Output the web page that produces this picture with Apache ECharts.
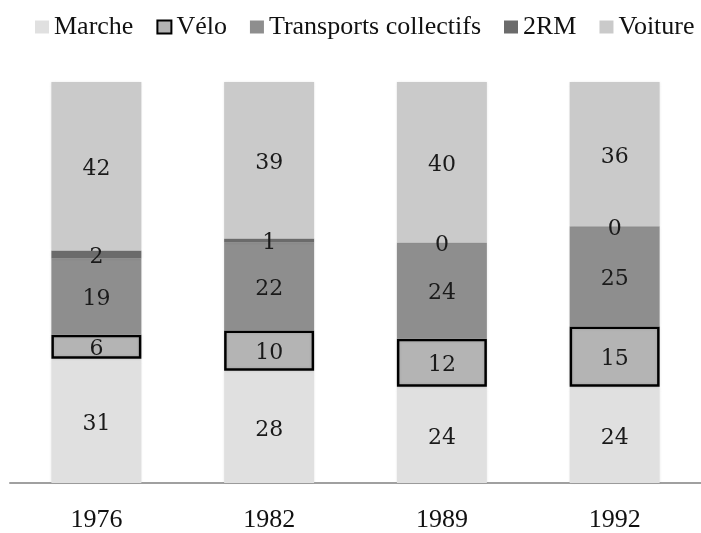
<!DOCTYPE html>
<html>
<head>
<meta charset="utf-8">
<script src="https://cdn.jsdelivr.net/npm/echarts@6/dist/echarts.min.js"></script>
<style>
  html, body { margin: 0; padding: 0; background: #fff; }
  #chart { width: 701px; height: 533px; }
</style>
</head>
<body>
<div id="chart"></div>
<script>
// données (%)
var annees = ["1976", "1982", "1989", "1992"];
var marche = [31, 28, 24, 24];
var velo = [6, 10, 12, 15];
var transports = [19, 22, 24, 25];
var deuxRM = [2, 1, 0, 0];
var voiture = [42, 39, 40, 36];

var myChart = echarts.init(document.getElementById("chart"));

function serie(name, data, color, border) {
  return {
    name: name,
    type: "bar",
    stack: "total",
    barWidth: 90,
    data: data,
    itemStyle: {
      color: color,
      borderColor: border ? "#000" : color,
      borderWidth: border ? 2.5 : 0,
      shadowBlur: 3,
      shadowColor: "rgba(0,0,0,0.12)"
    },
    label: {
      show: true,
      position: "inside",
      offset: [0, 3],
      color: "#1a1a1a",
      fontFamily: "DejaVu Serif",
      fontSize: 22
    }
  };
}

myChart.setOption({
  animation: false,
  legend: {
    left: 35,
    top: 14,
    width: 690,
    padding: 0,
    icon: "rect",
    itemWidth: 14,
    itemHeight: 13,
    itemGap: 23,
    textStyle: {
      fontFamily: "Liberation Serif",
      fontSize: 26,
      color: "#111"
    },
    data: ["Marche", "Vélo", "Transports collectifs", "2RM", "Voiture"]
  },
  grid: {
    left: 10,
    right: -10,
    top: 82,
    bottom: 47
  },
  xAxis: {
    type: "category",
    data: annees,
    axisLine: {
      show: true,
      lineStyle: { color: "#a0a0a0", width: 2 }
    },
    axisTick: { show: false },
    axisLabel: {
      margin: 24,
      color: "#111",
      fontFamily: "Liberation Serif",
      fontSize: 26
    }
  },
  yAxis: {
    type: "value",
    min: 0,
    max: 100,
    show: false
  },
  series: [
    serie("Marche", marche, "#e0e0e0", false),
    serie("Vélo", velo, "#b4b4b4", true),
    serie("Transports collectifs", transports, "#8e8e8e", false),
    serie("2RM", deuxRM, "#6b6b6b", false),
    serie("Voiture", voiture, "#cacaca", false)
  ]
});
</script>
</body>
</html>
